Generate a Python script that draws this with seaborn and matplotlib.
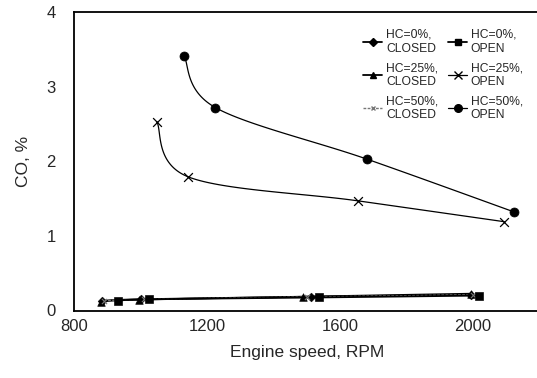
import numpy as np
import pandas as pd
import matplotlib
matplotlib.use("Agg")
import matplotlib.pyplot as plt
from matplotlib.lines import Line2D
import seaborn as sns

# ---- data ----
rpm_hc0_closed = [885, 1000, 1512, 1995]
co_hc0_closed = [0.13, 0.15, 0.185, 0.21]
rpm_hc0_open = [933, 1026, 1538, 2019]
co_hc0_open = [0.13, 0.15, 0.175, 0.20]
rpm_hc25_closed = [880, 996, 1488, 1993]
co_hc25_closed = [0.12, 0.145, 0.185, 0.225]
rpm_hc50_closed = [890, 1010, 1500, 2000]
co_hc50_closed = [0.13, 0.15, 0.18, 0.21]
rpm_hc25_open = [1049, 1144, 1653, 2094]
co_hc25_open = [2.53, 1.79, 1.47, 1.19]
rpm_hc50_open = [1131, 1225, 1680, 2124]
co_hc50_open = [3.41, 2.72, 2.03, 1.32]

labels = ["HC=0%,\nCLOSED", "HC=25%,\nCLOSED", "HC=50%,\nCLOSED",
          "HC=0%,\nOPEN", "HC=25%,\nOPEN", "HC=50%,\nOPEN"]
x_ticks = [800, 1200, 1600, 2000]
y_ticks = [0, 1, 2, 3, 4]

sns.set_style("white")
plt.rcParams['font.family'] = ['Liberation Sans', 'DejaVu Sans']

fig = plt.figure(figsize=(5.37, 3.78), dpi=100)
ax = fig.add_axes([74 / 537, 67.5 / 378, (539.5 - 74) / 537, (310.5 - 12) / 378])
XMIN, XMAX, YMIN, YMAX = 800, 2200, 0, 4
ax.set_xlim(XMIN, XMAX)
ax.set_ylim(YMIN, YMAX)


def smooth(xs, ys, n=40):
    # Catmull-Rom smoothing computed in axes-fraction space
    px = (np.asarray(xs, float) - XMIN) / (XMAX - XMIN) * 465.5
    py = (np.asarray(ys, float) - YMIN) / (YMAX - YMIN) * 298.5
    P = np.column_stack([px, py])
    P = np.vstack([P[0], P, P[-1]])
    out = []
    t = np.linspace(0, 1, n)[:, None]
    for i in range(1, len(P) - 2):
        p0, p1, p2, p3 = P[i - 1], P[i], P[i + 1], P[i + 2]
        seg = 0.5 * ((2 * p1) + (-p0 + p2) * t + (2 * p0 - 5 * p1 + 4 * p2 - p3) * t ** 2
                     + (-p0 + 3 * p1 - 3 * p2 + p3) * t ** 3)
        out.append(seg if i == 1 else seg[1:])
    S = np.vstack(out)
    sx = S[:, 0] / 465.5 * (XMAX - XMIN) + XMIN
    sy = S[:, 1] / 298.5 * (YMAX - YMIN) + YMIN
    return sx, sy


series = [
    (rpm_hc0_closed, co_hc0_closed, dict(color="black", lw=1.3, ls="-"), dict(marker="D", s=20, color="black")),
    (rpm_hc25_closed, co_hc25_closed, dict(color="black", lw=1.3, ls="-"), dict(marker="^", s=30, color="black")),
    (rpm_hc50_closed, co_hc50_closed, dict(color="#777777", lw=1.0, ls=(0, (2, 1))), dict(marker="x", s=14, color="#777777", linewidths=0.8)),
    (rpm_hc0_open, co_hc0_open, dict(color="black", lw=1.3, ls="-"), dict(marker="s", s=32, color="black")),
    (rpm_hc25_open, co_hc25_open, dict(color="black", lw=0.9, ls="-"), dict(marker="x", s=40, color="black", linewidths=0.9)),
    (rpm_hc50_open, co_hc50_open, dict(color="black", lw=0.9, ls="-"), dict(marker="o", s=42, color="black")),
]

for xs, ys, lkw, mkw in series:
    sx, sy = smooth(xs, ys)
    sns.lineplot(x=sx, y=sy, sort=False, ax=ax, estimator=None, **lkw)
    sns.scatterplot(x=xs, y=ys, ax=ax, edgecolor=mkw.get("color") if mkw["marker"] != "x" else None,
                    zorder=3, **mkw)

ax.set_xticks(x_ticks)
ax.set_yticks(y_ticks)
ax.tick_params(length=0, labelsize=12)
ax.tick_params(axis="x", pad=6)
ax.tick_params(axis="y", pad=13)
ax.set_xlabel("Engine speed, RPM", fontsize=12.5, labelpad=8)
ax.set_ylabel("CO, %", fontsize=12.5, labelpad=11)
for s in ["left", "top", "bottom", "right"]:
    ax.spines[s].set_color("black")
    ax.spines[s].set_linewidth(1.3)

handles = [
    Line2D([], [], color="black", lw=1.3, marker="D", ms=4),
    Line2D([], [], color="black", lw=1.3, marker="^", ms=5),
    Line2D([], [], color="#777777", lw=1.0, ls=(0, (2, 1)), marker="x", ms=3.5),
    Line2D([], [], color="black", lw=1.3, marker="s", ms=5),
    Line2D([], [], color="black", lw=0.9, marker="x", ms=6),
    Line2D([], [], color="black", lw=0.9, marker="o", ms=5.5),
]
leg = ax.legend(handles, labels, ncol=2, loc="upper left", frameon=False,
                bbox_to_anchor=(363 / 537, 1 - 29 / 378), bbox_transform=fig.transFigure,
                fontsize=8.7, handlelength=1.6, handletextpad=0.3, columnspacing=0.8,
                labelspacing=0.6, borderpad=0, borderaxespad=0)

fig.savefig("out.png", dpi=100)
